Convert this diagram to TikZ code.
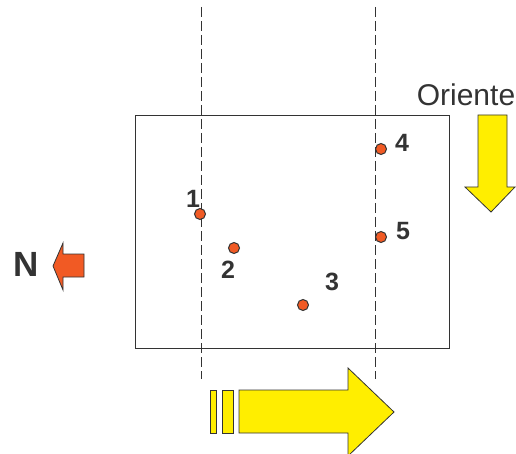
\documentclass[tikz,border=0pt]{standalone}
\usepackage{fontspec}
\setmainfont{Liberation Sans}
\definecolor{dotorange}{HTML}{F15A24}
\definecolor{arrowyellow}{HTML}{FFEE00}
\definecolor{ink}{HTML}{333333}
\begin{document}
\begin{tikzpicture}[x=1pt,y=-1pt,
  guide/.style={draw=ink,line width=0.8pt,dash pattern=on 10pt off 4pt},
  pt/.style={circle,draw=ink,line width=1pt,fill=dotorange,minimum size=11pt,inner sep=0pt},
  num/.style={text=ink,font=\fontsize{25}{25}\selectfont\bfseries,inner sep=0pt},
  yarrow/.style={draw=ink,line width=0.8pt,fill=arrowyellow,line join=miter},
  oarrow/.style={draw=ink,line width=0.8pt,fill=dotorange,line join=miter}]
\useasboundingbox (0,0) rectangle (516,454);
% frame
\node[draw=ink,line width=1pt,minimum width=314pt,minimum height=233pt,inner sep=0pt,anchor=north west] (frame) at (135,115) {};
% guide lines
\coordinate (g1t) at (201,7); \coordinate (g1b) at (201,379);
\coordinate (g2t) at (375,7); \coordinate (g2b) at (375,379);
\draw[guide] (g1t) -- (g1b);
\draw[guide] (g2t) -- (g2b);
% points
\node[pt] (p1) at (200,214) {};
\node[pt] (p2) at (234,248) {};
\node[pt] (p3) at (303,305) {};
\node[pt] (p4) at (381,149) {};
\node[pt] (p5) at (381,237) {};
\node[num] (l1) at (193,199) {1};
\node[num] (l2) at (228,270) {2};
\node[num] (l3) at (332,282) {3};
\node[num] (l4) at (402,143) {4};
\node[num] (l5) at (403,231) {5};
% north
\node[text=ink,font=\fontsize{35}{35}\selectfont\bfseries,inner sep=0pt] (N) at (26,264) {N};
\draw[oarrow] (84,254) -- (63,254) -- (63,243) -- (53,266) -- (63,290) -- (63,277) -- (84,277) -- cycle;
% oriente
\node[text=ink,font=\fontsize{30}{30}\selectfont,inner sep=0pt] (ori) at (466,95) {Oriente};
\draw[yarrow] (478,115) -- (507,115) -- (507,187) -- (515,187) -- (491,212) -- (465,187) -- (478,187) -- cycle;
% bottom arrow
\draw[yarrow] (210,390) rectangle (216,433);
\draw[yarrow] (222,390) rectangle (233,433);
\draw[yarrow] (239,390) -- (348,390) -- (348,368) -- (394,412) -- (348,456) -- (348,433) -- (239,433) -- cycle;
\end{tikzpicture}
\end{document}
